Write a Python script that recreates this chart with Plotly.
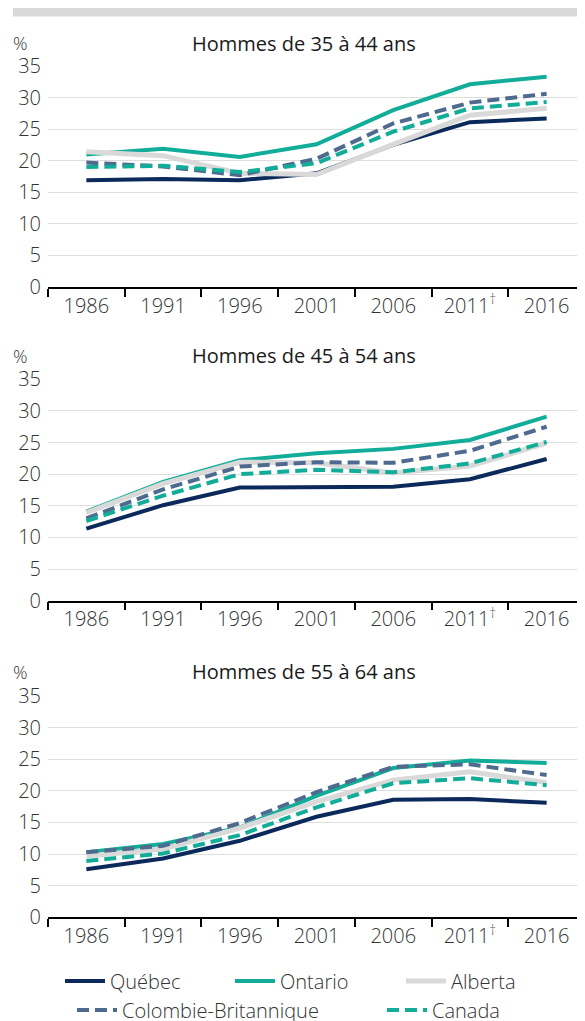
import plotly.graph_objects as go

years = ["1986", "1991", "1996", "2001", "2006",
         "2011<sup><span style='color:#555555'>†</span></sup>", "2016"]
y_ticks = [0, 5, 10, 15, 20, 25, 30, 35]
panel_titles = ["Hommes de 35 à 44 ans", "Hommes de 45 à 54 ans", "Hommes de 55 à 64 ans"]
series_names = ["Québec", "Ontario", "Alberta", "Colombie-Britannique", "Canada"]

# Panel 1 : 35 à 44 ans
quebec_35_44 = [16.9, 17.1, 16.9, 18.0, 22.5, 26.1, 26.7]
ontario_35_44 = [21.0, 21.9, 20.6, 22.6, 28.0, 32.1, 33.3]
alberta_35_44 = [21.4, 20.8, 18.0, 17.8, 22.6, 27.2, 28.3]
cb_35_44 = [19.7, 19.1, 17.7, 20.3, 25.9, 29.2, 30.6]
canada_35_44 = [19.0, 19.2, 18.2, 19.6, 24.6, 28.3, 29.3]

# Panel 2 : 45 à 54 ans
quebec_45_54 = [11.4, 15.1, 17.9, 18.0, 18.0, 19.2, 22.4]
ontario_45_54 = [14.1, 18.8, 22.2, 23.3, 24.0, 25.4, 29.1]
alberta_45_54 = [13.9, 18.5, 21.9, 21.8, 20.2, 21.3, 24.9]
cb_45_54 = [13.0, 17.6, 21.2, 21.9, 21.8, 23.7, 27.5]
canada_45_54 = [12.6, 16.6, 20.0, 20.7, 20.3, 21.7, 25.1]

# Panel 3 : 55 à 64 ans
quebec_55_64 = [7.6, 9.3, 12.1, 15.9, 18.6, 18.7, 18.1]
ontario_55_64 = [10.3, 11.6, 14.2, 19.2, 23.6, 24.8, 24.4]
alberta_55_64 = [9.7, 10.8, 14.1, 18.3, 21.7, 23.0, 21.3]
cb_55_64 = [10.3, 11.3, 14.9, 19.8, 23.8, 24.2, 22.5]
canada_55_64 = [8.9, 10.1, 13.0, 17.4, 21.2, 22.0, 20.9]

panels = [
    [quebec_35_44, ontario_35_44, alberta_35_44, cb_35_44, canada_35_44],
    [quebec_45_54, ontario_45_54, alberta_45_54, cb_45_54, canada_45_54],
    [quebec_55_64, ontario_55_64, alberta_55_64, cb_55_64, canada_55_64],
]

styles = [
    dict(color="#0b2a5b", width=4, dash="solid"),
    dict(color="#12ad98", width=4, dash="solid"),
    dict(color="#d9d9d9", width=5, dash="solid"),
    dict(color="#4f6a8f", width=4, dash="12px,6px"),
    dict(color="#12ad98", width=4, dash="12px,6px"),
]
legend_ids = ["legend", "legend2", "legend3", "legend4", "legend5"]
# (left x of line sample, row centre y) in page pixels
legend_pos = [(66, 981), (236, 981), (407, 981), (78, 1010), (388, 1010)]

# the page body has an 8 px margin: the figure is drawn from (8, 8)
OFF = 8
W, H = 585 - OFF, 1021 - OFF
FONT = "Open Sans, Noto Sans, sans-serif"
TXT = "#333333"
FS = 20


def px(x):
    return (x - OFF) / W


def py(y):
    return 1 - (y - OFF) / H


# pixel geometry of each panel: (top y, bottom y)
panel_px = [(66, 287), (379.3, 600.7), (696, 917.3)]
label_y_px = [43, 355.5, 671.5]

fig = go.Figure()

for p, series in enumerate(panels):
    xa = "x" if p == 0 else f"x{p+1}"
    ya = "y" if p == 0 else f"y{p+1}"
    for i, vals in enumerate(series):
        fig.add_trace(go.Scatter(
            x=years, y=vals, mode="lines", name=series_names[i],
            line=styles[i], xaxis=xa, yaxis=ya,
            showlegend=(p == 0), legend=legend_ids[i],
            hoverinfo="skip",
        ))

layout = dict(
    width=W, height=H,
    margin=dict(l=0, r=0, t=0, b=0, autoexpand=False),
    paper_bgcolor="white", plot_bgcolor="white",
    font=dict(family=FONT, size=FS, color=TXT, weight=300),
    showlegend=True,
)
for lid, (lx, ly) in zip(legend_ids, legend_pos):
    layout[lid] = dict(orientation="h", xanchor="left", yanchor="middle",
                       x=px(lx - 6), y=py(ly), itemwidth=40,
                       font=dict(size=FS, color=TXT, weight=300), bgcolor="rgba(0,0,0,0)",
                       itemclick=False, itemdoubleclick=False)

annotations = []
for p in range(3):
    top, bot = panel_px[p]
    sfx = "" if p == 0 else str(p + 1)
    layout["xaxis" + sfx] = dict(
        domain=[px(48), 1.0], type="category", range=[-0.5, 6.5],
        anchor="y" + sfx, showline=True, linecolor="#000000", linewidth=1.5,
        ticks="outside", tickson="boundaries", ticklen=8, tickcolor="#000000",
        tickwidth=1.5, showgrid=False, tickfont=dict(size=FS, color=TXT, weight=300),
        fixedrange=True,
    )
    layout["yaxis" + sfx] = dict(
        domain=[py(bot), py(top)], range=[0, 35], tickvals=y_ticks,
        anchor="x" + sfx, showline=False, showgrid=True, gridcolor="#dddddd",
        gridwidth=1.2, zeroline=False, ticks="outside", ticklen=2,
        tickcolor="rgba(0,0,0,0)", tickfont=dict(size=FS, color=TXT, weight=300),
        fixedrange=True,
    )
    annotations.append(dict(text="%", x=px(11), y=py(label_y_px[p]), xref="paper", yref="paper",
                            xanchor="left", yanchor="middle", showarrow=False,
                            font=dict(size=18, color=TXT, weight=300)))
    annotations.append(dict(text=panel_titles[p], x=px(303.5), y=py(label_y_px[p]),
                            xref="paper", yref="paper", xanchor="center", yanchor="middle",
                            showarrow=False, font=dict(size=FS, color="#1a1a1a", weight=400)))

layout["annotations"] = annotations
layout["shapes"] = [dict(type="rect", xref="paper", yref="paper", x0=px(13), x1=1.0,
                         y0=py(16.5), y1=1.0, fillcolor="#d9d9d9", line=dict(width=0),
                         layer="below")]

fig.update_layout(**layout)
fig.write_html("out.html")
